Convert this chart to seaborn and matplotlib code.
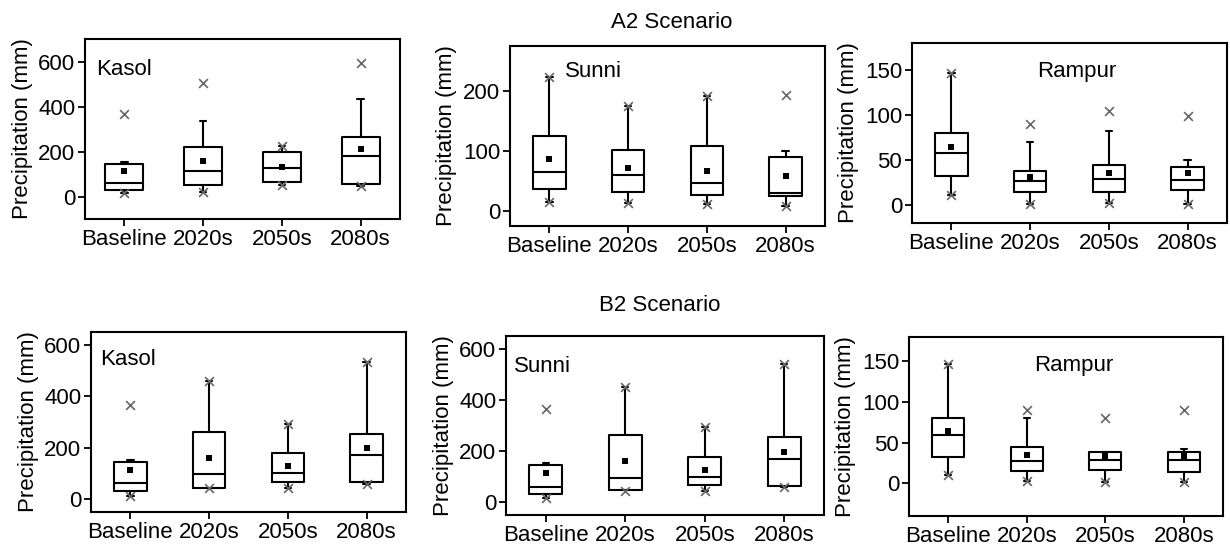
import matplotlib
matplotlib.use("Agg")
import matplotlib.pyplot as plt
import seaborn as sns
import pandas as pd

periods = ["Baseline", "2020s", "2050s", "2080s"]

# summary statistics (mm)
a2_kasol = {
    "q1": [27, 52, 63, 57],
    "med": [60, 112, 127, 179],
    "q3": [146, 218, 197, 266],
    "lo": [15, 22, 52, 45],
    "hi": [152, 336, 224, 433],
    "mean": [112, 158, 130, 209],
    "min": [15, 22, 52, 45],
    "max": [366, 503, 224, 594],
}
a2_sunni = {
    "q1": [37, 31, 27, 24.5],
    "med": [65, 59.5, 47, 30],
    "q3": [124.5, 102, 109, 90.6],
    "lo": [15, 14, 12, 8],
    "hi": [223, 174.5, 192, 100],
    "mean": [86, 72, 67, 58],
    "min": [15, 14, 12, 8],
    "max": [223, 174.5, 192, 193],
}
a2_rampur = {
    "q1": [32.5, 15, 14, 16.4],
    "med": [58, 27, 29, 28],
    "q3": [80, 38, 45, 42],
    "lo": [11, 1, 2.6, 1],
    "hi": [146.6, 70, 82.5, 50],
    "mean": [64.6, 31, 35.5, 35.5],
    "min": [11, 1, 2.6, 1],
    "max": [146.6, 90, 105, 99],
}
b2_kasol = {
    "q1": [31, 45, 66, 65],
    "med": [61, 96, 100, 173],
    "q3": [145, 261, 178, 253],
    "lo": [12, 45, 44, 58],
    "hi": [154, 458, 291, 535],
    "mean": [112.5, 160, 128, 198],
    "min": [12, 43, 44, 58],
    "max": [365, 458, 291, 535],
}
b2_sunni = {
    "q1": [32, 46, 68, 64],
    "med": [59, 94, 98, 169],
    "q3": [146, 262, 178, 255],
    "lo": [18, 46, 44, 58],
    "hi": [154, 452, 294, 539],
    "mean": [113.5, 161, 126, 197],
    "min": [18, 43, 44, 58],
    "max": [365, 452, 294, 539],
}
b2_rampur = {
    "q1": [32.7, 14.7, 16.3, 14.3],
    "med": [59, 28, 29.4, 28.6],
    "q3": [80.5, 45, 38.4, 38.4],
    "lo": [11, 3, 1.6, 1.6],
    "hi": [147, 80, 39, 42.5],
    "mean": [65, 35, 33.5, 33.5],
    "min": [11, 3, 1.6, 1.6],
    "max": [147, 90.7, 80.5, 90.7],
}

sns.set_theme(style="ticks")
plt.rcParams["font.family"] = ["Liberation Sans", "DejaVu Sans"]
plt.rcParams["text.color"] = "black"
plt.rcParams["axes.labelcolor"] = "black"
plt.rcParams["xtick.color"] = "black"
plt.rcParams["ytick.color"] = "black"

W, H = 1230, 545
fig = plt.figure(figsize=(12.3, 5.45), dpi=100)


def add_ax(x0, y0, x1, y1):
    return fig.add_axes([x0 / W, 1 - y1 / H, (x1 - x0) / W, (y1 - y0) / H])


def draw_panel(ax, d, name, ylim, yticks, lx, ly, ha, width):
    stats = []
    for i in range(len(periods)):
        stats.append(dict(q1=d["q1"][i], med=d["med"][i], q3=d["q3"][i],
                          whislo=d["lo"][i], whishi=d["hi"][i], fliers=[]))
    line = dict(color="black", linewidth=1.5)
    ax.bxp(stats, positions=range(len(periods)), widths=width, capwidths=0.08,
           showfliers=False, boxprops=line, whiskerprops=line, capprops=line,
           medianprops=line)
    df = pd.DataFrame({"x": range(len(periods)), "mean": d["mean"],
                       "min": d["min"], "max": d["max"]})
    for col in ["min", "max"]:
        sns.scatterplot(data=df, x="x", y=col, marker="x", color="#666666",
                        s=40, linewidth=1.2, ax=ax, zorder=3)
    sns.scatterplot(data=df, x="x", y="mean", marker="s", color="black",
                    s=24, linewidth=0, ax=ax, zorder=4)
    ax.set_xlim(-0.5, 3.5)
    ax.set_ylim(*ylim)
    ax.set_yticks(yticks)
    ax.set_xticks(range(len(periods)))
    ax.set_xticklabels(periods)
    ax.set_xlabel("")
    ax.set_ylabel("Precipitation (mm)", fontsize=16, labelpad=4)
    ax.tick_params(labelsize=16, length=5, width=1.3, pad=2)
    for sp in ax.spines.values():
        sp.set_visible(True)
        sp.set_linewidth(1.5)
        sp.set_color("black")
    ax.text(lx, ly, name, transform=ax.transAxes, fontsize=16, ha=ha, va="center")


ax = add_ax(85, 39, 400, 219)
draw_panel(ax, a2_kasol, "Kasol", (-100, 700), [0, 200, 400, 600], 0.035, 0.833, "left", 0.48)
ax = add_ax(510, 46, 825, 226)
draw_panel(ax, a2_sunni, "Sunni", (-25, 275), [0, 100, 200], 0.175, 0.861, "left", 0.41)
ax = add_ax(912, 43, 1227, 223)
draw_panel(ax, a2_rampur, "Rampur", (-20, 180), [0, 50, 100, 150], 0.524, 0.842, "center", 0.41)

ax = add_ax(91, 332, 406, 512)
draw_panel(ax, b2_kasol, "Kasol", (-50, 650), [0, 200, 400, 600], 0.03, 0.848, "left", 0.41)
ax = add_ax(506, 336, 824, 515)
draw_panel(ax, b2_sunni, "Sunni", (-50, 650), [0, 200, 400, 600], 0.026, 0.832, "left", 0.41)
ax = add_ax(909, 337, 1223, 516)
draw_panel(ax, b2_rampur, "Rampur", (-40, 180), [0, 50, 100, 150], 0.525, 0.842, "center", 0.41)

fig.text(672 / W, 1 - 22.7 / H, "A2 Scenario", fontsize=16, ha="center", va="center")
fig.text(660 / W, 1 - 305.7 / H, "B2 Scenario", fontsize=16, ha="center", va="center")

fig.savefig("out.png", dpi=100, facecolor="white")
